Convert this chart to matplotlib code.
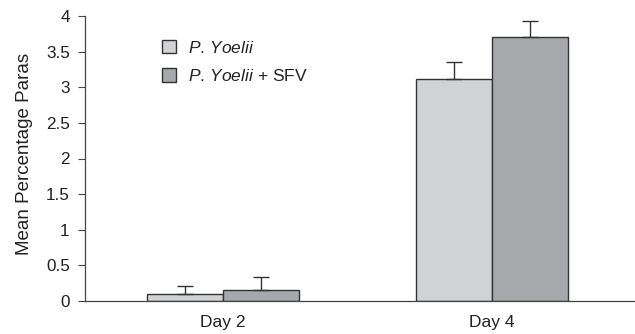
import matplotlib
matplotlib.use("Agg")
import matplotlib.pyplot as plt
from matplotlib.patches import Patch

plt.rcParams['font.family'] = ['Liberation Sans', 'DejaVu Sans']
plt.rcParams['mathtext.fontset'] = 'custom'
plt.rcParams['mathtext.rm'] = 'Liberation Sans'
plt.rcParams['mathtext.it'] = 'Liberation Sans:italic'

categories = ["Day 2", "Day 4"]
series_names = [r"$\mathit{P.\,Yoelii}$", r"$\mathit{P.\,Yoelii}$ + SFV"]
yoelii = [0.10, 3.12]
yoelii_err = [0.11, 0.23]
yoelii_sfv = [0.155, 3.71]
yoelii_sfv_err = [0.175, 0.22]
yticks = [0, 0.5, 1, 1.5, 2, 2.5, 3, 3.5, 4]
ytick_labels = ["0", "0.5", "1", "1.5", "2", "2.5", "3", "3.5", "4"]

colors = ["#d1d2d4", "#a7a8ab"]
edge = "#333333"
txt = "#222222"

fig = plt.figure(figsize=(6.35, 3.34), dpi=100)
ax = fig.add_axes([85/635, 33/334, 550/635, 285/334])

x = list(range(len(categories)))
w = 0.282
x1 = [xi - w/2 for xi in x]
x2 = [xi + w/2 for xi in x]
ekw = dict(ecolor=edge, elinewidth=1.0, capsize=5.5, capthick=1.0)
ax.bar(x1, yoelii, width=w, color=colors[0], edgecolor=edge, linewidth=1.0,
       yerr=[[0]*len(x), yoelii_err], error_kw=ekw, zorder=2)
ax.bar(x2, yoelii_sfv, width=w, color=colors[1], edgecolor=edge, linewidth=1.0,
       yerr=[[0]*len(x), yoelii_sfv_err], error_kw=ekw, zorder=2)

ax.set_xlim(-0.513, 1.533)
ax.set_ylim(0, 4)
ax.set_yticks(yticks)
ax.set_yticklabels(ytick_labels, fontsize=12.3, color=txt)
ax.set_xticks(x)
ax.set_xticklabels(categories, fontsize=12.5, color=txt)
ax.tick_params(axis='x', length=0, pad=10)
ax.tick_params(axis='y', length=5, width=0.8, color="#444444", pad=6)

for s in ["top", "right"]:
    ax.spines[s].set_visible(False)
for s in ["left", "bottom"]:
    ax.spines[s].set_color("#444444")
    ax.spines[s].set_linewidth(0.9)

ax.set_ylabel("Mean Percentage Paras", fontsize=13.5, color=txt)
ax.yaxis.set_label_coords(33/635, 1 - 154/334, transform=fig.transFigure)

handles = [Patch(facecolor=colors[0], edgecolor=edge, linewidth=1.0),
           Patch(facecolor=colors[1], edgecolor=edge, linewidth=1.0)]
leg = ax.legend(handles, series_names, loc="upper left",
                bbox_to_anchor=(148/635, 1 - 26/334), bbox_transform=fig.transFigure,
                frameon=False, fontsize=12.5, handlelength=0.8, handleheight=0.8,
                handletextpad=0.7, labelspacing=0.7, borderpad=0.3)
for t in leg.get_texts():
    t.set_color(txt)

fig.savefig("out.png", dpi=100)
